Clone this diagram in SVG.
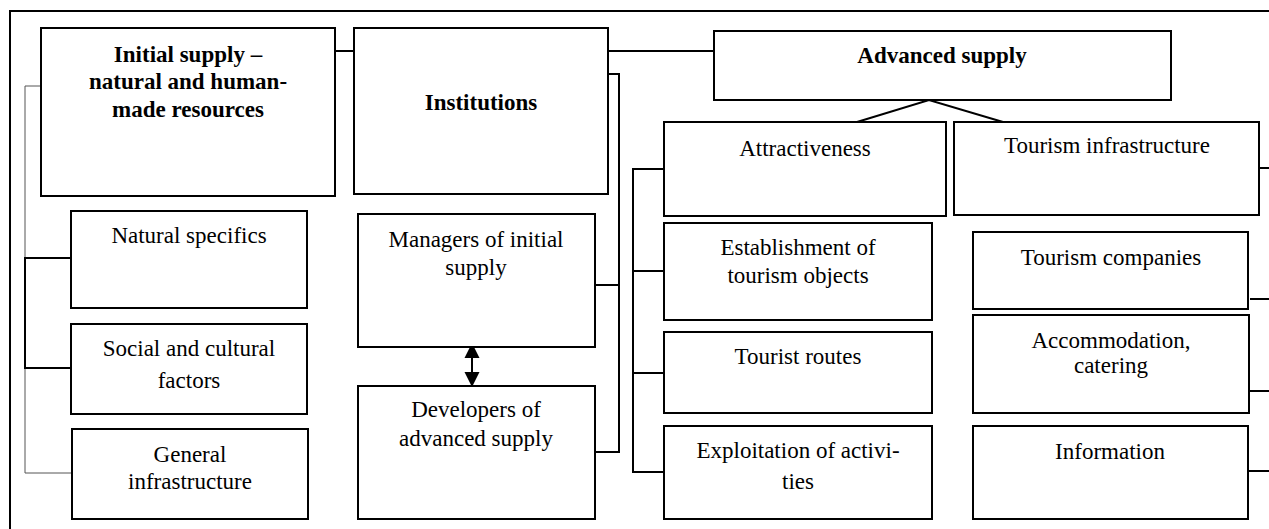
<svg xmlns="http://www.w3.org/2000/svg" width="1269" height="529" viewBox="0 0 1269 529">
<style>
.box{fill:#fff;stroke:#000;stroke-width:2}
.t{font-family:"Liberation Serif","Times New Roman",serif;font-size:23px;text-anchor:middle;fill:#000}
.b{font-weight:bold}
.c{fill:none;stroke:#000;stroke-width:2}
.thin{fill:none;stroke:#555;stroke-width:1}
.ah{fill:#000;stroke:none}
</style>
<rect x="0" y="0" width="1269" height="529" fill="#fff"/>
<path class="c" d="M10,529 L10,11 L1269,11"/>
<g id="connectors">
<path class="c" d="M335,51 H354"/>
<path class="c" d="M608,51 H714"/>
<path class="c" d="M608,74 H619 V452 H595 M595,285 H619"/>
<path class="c" d="M664,169 H633 V472 H664 M633,271 H664 M633,373 H664"/>
<path class="c" d="M857,122 L929,100 L1003,122"/>
<path class="c" d="M1259,168 H1269 M1250,299 H1269 M1250,391 H1269 M1249,471 H1269"/>
<path class="thin" d="M41,86 H25 V473 H72"/>
<path class="c" d="M71,258 H25 V368 H71"/>
<g id="double-arrow">
<line class="c" x1="472" y1="355" x2="472" y2="375"/>
<path class="ah" d="M472,343 L479.5,358 L464.5,358 Z"/>
<path class="ah" d="M472,387 L479.5,372 L464.5,372 Z"/>
</g>
</g>
<g id="initial"><rect class="box" x="41" y="28" width="294" height="168"/>
<text class="t b" x="188" y="62">Initial supply –</text>
<text class="t b" x="188" y="89">natural and human-</text>
<text class="t b" x="188" y="117">made resources</text></g>
<g id="institutions"><rect class="box" x="354" y="28" width="254" height="166"/>
<text class="t b" x="481" y="110">Institutions</text></g>
<g id="advanced"><rect class="box" x="714" y="31" width="457" height="69"/>
<text class="t b" x="942" y="63">Advanced supply</text></g>
<g id="natural"><rect class="box" x="71" y="211" width="236" height="97"/>
<text class="t" x="189" y="243">Natural specifics</text></g>
<g id="social"><rect class="box" x="71" y="324" width="236" height="90"/>
<text class="t" x="189" y="356">Social and cultural</text>
<text class="t" x="189" y="388">factors</text></g>
<g id="general"><rect class="box" x="72" y="429" width="236" height="90"/>
<text class="t" x="190" y="462">General</text>
<text class="t" x="190" y="489">infrastructure</text></g>
<g id="managers"><rect class="box" x="358" y="214" width="237" height="133"/>
<text class="t" x="476" y="247">Managers of initial</text>
<text class="t" x="476" y="275">supply</text></g>
<g id="developers"><rect class="box" x="358" y="386" width="237" height="133"/>
<text class="t" x="476" y="417">Developers of</text>
<text class="t" x="476" y="446">advanced supply</text></g>
<g id="attractiveness"><rect class="box" x="664" y="122" width="282" height="94"/>
<text class="t" x="805" y="156">Attractiveness</text></g>
<g id="establishment"><rect class="box" x="664" y="223" width="268" height="97"/>
<text class="t" x="798" y="255">Establishment of</text>
<text class="t" x="798" y="283">tourism objects</text></g>
<g id="routes"><rect class="box" x="664" y="332" width="268" height="81"/>
<text class="t" x="798" y="364">Tourist routes</text></g>
<g id="exploitation"><rect class="box" x="664" y="426" width="268" height="93"/>
<text class="t" x="798" y="458">Exploitation of activi-</text>
<text class="t" x="798" y="489">ties</text></g>
<g id="tourism-infrastructure"><rect class="box" x="954" y="122" width="305" height="93"/>
<text class="t" x="1107" y="153">Tourism infrastructure</text></g>
<g id="companies"><rect class="box" x="973" y="232" width="275" height="77"/>
<text class="t" x="1111" y="265">Tourism companies</text></g>
<g id="accommodation"><rect class="box" x="973" y="315" width="276" height="98"/>
<text class="t" x="1111" y="348">Accommodation,</text>
<text class="t" x="1111" y="373">catering</text></g>
<g id="information"><rect class="box" x="973" y="426" width="275" height="93"/>
<text class="t" x="1110" y="459">Information</text></g>
</svg>
